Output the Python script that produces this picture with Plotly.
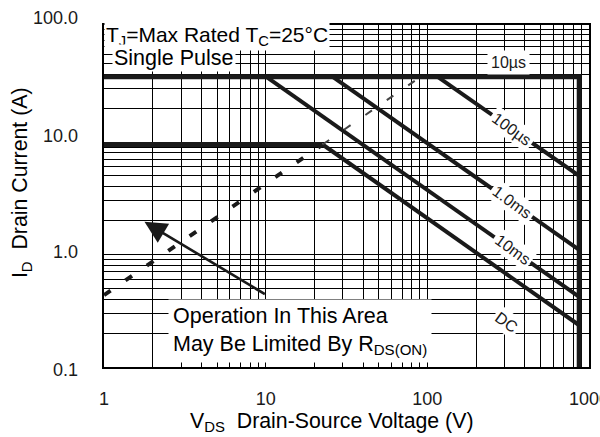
import numpy as np
import plotly.graph_objects as go

# ---------------- data ----------------
X_TICK_VALUES = [1, 10, 100, 1000]
X_TICK_LABELS = ["1", "10", "100", "1000"]
Y_TICK_VALUES = [0.1, 1, 10, 100]
Y_TICK_LABELS = ["0.1", "1.0", "10.0", "100.0"]

V_MAX = 870.0      # V   drain-source voltage limit (vertical boundary)
I_DM = 38.0        # A   pulsed drain current limit
I_D = 9.5          # A   continuous drain current limit

# R_DS(on) limit (dashed)
RDS_V = [1.0, 22.5]
RDS_I = [0.436, 9.5]
RDS_EXT_V = [22.5, 91.0]
RDS_EXT_I = [9.5, 38.0]

# constant-power pulse lines: start point and current at V_MAX
PULSE_NAMES = ["100µs", "1.0ms", "10ms", "DC"]
PULSE_V_START = [116.0, 26.0, 10.1, 22.5]
PULSE_I_START = [38.0, 38.0, 38.0, 9.5]
PULSE_I_END = [5.0, 1.1, 0.42, 0.235]

# label anchors
LINE_LABEL_V = 336.0                 # labels sit on the lines at this V
DC_LABEL = (310.0, 0.25)
TEN_US_LABEL = (318.0, 51.4)
ARROW_TAIL = (10.1, 0.436)
ARROW_HEAD = (1.78, 1.95)

# ---------------- styling ----------------
FONT = "Liberation Sans, Arial, sans-serif"
INK = "#1a1a1a"
Y_LABEL_SHIFT = [-3, 2.5, 6, 12]

fig = go.Figure()

# boundary: I_DM line + V_MAX line
fig.add_trace(go.Scatter(x=[1, V_MAX, V_MAX], y=[I_DM, I_DM, 0.1], mode="lines",
                         line=dict(color=INK, width=5), hoverinfo="skip"))
# continuous current line
fig.add_trace(go.Scatter(x=[1, PULSE_V_START[3]], y=[I_D, I_D], mode="lines",
                         line=dict(color=INK, width=5), hoverinfo="skip"))
# pulse lines
for vs, i0, i1 in zip(PULSE_V_START, PULSE_I_START, PULSE_I_END):
    fig.add_trace(go.Scatter(x=[vs, V_MAX], y=[i0, i1], mode="lines",
                             line=dict(color=INK, width=4), hoverinfo="skip"))
# RDS(on) dashed limit
fig.add_trace(go.Scatter(x=RDS_V, y=RDS_I, mode="lines",
                         line=dict(color=INK, width=4, dash="8px,18px"), hoverinfo="skip"))
fig.add_trace(go.Scatter(x=RDS_EXT_V, y=RDS_EXT_I, mode="lines",
                         line=dict(color="#444", width=2, dash="8px,18px"), hoverinfo="skip"))

annotations = []


def on_line(vs, i0, i1, v):
    lx0, lx1 = np.log10(vs), np.log10(V_MAX)
    t = (np.log10(v) - lx0) / (lx1 - lx0)
    return np.log10(i0) + t * (np.log10(i1) - np.log10(i0))


for name, vs, i0, i1 in zip(PULSE_NAMES[:3], PULSE_V_START[:3], PULSE_I_START[:3], PULSE_I_END[:3]):
    annotations.append(dict(x=np.log10(LINE_LABEL_V), y=on_line(vs, i0, i1, LINE_LABEL_V),
                            xref="x", yref="y", text=name, showarrow=False, textangle=36,
                            bgcolor="white", borderpad=2,
                            font=dict(family=FONT, size=16, color=INK)))
annotations.append(dict(x=np.log10(DC_LABEL[0]), y=np.log10(DC_LABEL[1]), xref="x", yref="y",
                        text="DC", showarrow=False, textangle=36, bgcolor="white", borderpad=2,
                        font=dict(family=FONT, size=16, color=INK)))
annotations.append(dict(x=np.log10(TEN_US_LABEL[0]), y=np.log10(TEN_US_LABEL[1]), xref="x", yref="y",
                        text="10µs", showarrow=False, bgcolor="white", borderpad=3,
                        font=dict(family=FONT, size=16, color=INK)))

# arrow
annotations.append(dict(x=np.log10(ARROW_HEAD[0]), y=np.log10(ARROW_HEAD[1]), xref="x", yref="y",
                        ax=np.log10(ARROW_TAIL[0]), ay=np.log10(ARROW_TAIL[1]), axref="x", ayref="y",
                        showarrow=True, arrowhead=2, arrowsize=1.7, arrowwidth=2.6,
                        arrowcolor=INK, text=""))

# text blocks
annotations.append(dict(x=0.0, y=0.9678, xref="paper", yref="paper", xanchor="left", yanchor="middle",
                        text="T<sub>J</sub>=Max Rated T<sub>C</sub>=25°C", showarrow=False,
                        bgcolor="white", borderpad=1, font=dict(family=FONT, size=21, color="black")))
annotations.append(dict(x=0.017, y=0.9035, xref="paper", yref="paper", xanchor="left", yanchor="middle",
                        text="Single Pulse", showarrow=False, bgcolor="white", borderpad=1,
                        font=dict(family=FONT, size=21.5, color="black")))
annotations.append(dict(x=0.132, y=0.105, xref="paper", yref="paper", xanchor="left", yanchor="middle",
                        text="Operation In This Area<br>May Be Limited By R<sub>DS(ON)</sub>",
                        align="left", showarrow=False, bgcolor="white", borderpad=4,
                        font=dict(family=FONT, size=21.5, color="black")))

# y tick labels
for v, lab, sh in zip(Y_TICK_VALUES, Y_TICK_LABELS, Y_LABEL_SHIFT):
    annotations.append(dict(x=0, y=np.log10(v), xref="paper", yref="y", xanchor="right",
                            yanchor="middle", xshift=-24, yshift=sh, text=lab, showarrow=False,
                            font=dict(family=FONT, size=18, color=INK)))

# axis titles
annotations.append(dict(x=0.471, y=-0.161, xref="paper", yref="paper", xanchor="center",
                        yanchor="middle", text="V<sub>DS</sub>\u00a0\u00a0Drain-Source Voltage (V)",
                        showarrow=False, font=dict(family=FONT, size=21.3, color="black")))
annotations.append(dict(x=-0.171, y=0.538, xref="paper", yref="paper", xanchor="center",
                        yanchor="middle", textangle=-90,
                        text="I<sub>D</sub>\u00a0\u00a0Drain Current (A)",
                        showarrow=False, font=dict(family=FONT, size=21.3, color="black")))

# grid values (1..9 per decade)
grid_x = [m * 10 ** d for d in range(0, 3) for m in range(1, 10)] + [1000]
grid_y = [m * 10 ** d for d in range(-1, 2) for m in range(1, 10)] + [100]
xtext = [X_TICK_LABELS[X_TICK_VALUES.index(g)] if g in X_TICK_VALUES else "" for g in grid_x]

fig.update_layout(
    template="none",
    width=600, height=437,
    margin=dict(l=104, r=11, t=25, b=70, pad=0),
    paper_bgcolor="white", plot_bgcolor="white",
    showlegend=False,
    font=dict(family=FONT, size=18, color=INK),
    annotations=annotations,
    shapes=[dict(type="rect", xref="paper", yref="paper", x0=0.0, x1=0.404, y0=0.8626, y1=1.0,
                 fillcolor="white", line=dict(width=0), layer="between")],
)
fig.update_xaxes(type="log", range=[0, 3], tickmode="array", tickvals=grid_x, ticktext=xtext,
                 showgrid=True, gridcolor="black", gridwidth=1, zeroline=False,
                 showline=True, linecolor="black", linewidth=2, mirror=True,
                 ticks="", ticklabelstandoff=14, ticklabeloverflow="allow", automargin=False,
                 tickfont=dict(family=FONT, size=18, color=INK))
fig.update_yaxes(type="log", range=[-1, 2.04], tickmode="array", tickvals=grid_y,
                 ticktext=[""] * len(grid_y),
                 showgrid=True, gridcolor="black", gridwidth=1, zeroline=False,
                 showline=True, linecolor="black", linewidth=2, mirror=True,
                 ticks="", automargin=False)

fig.write_html("out.html", config={"displayModeBar": False},
               post_script="document.body.style.margin='0px';")
